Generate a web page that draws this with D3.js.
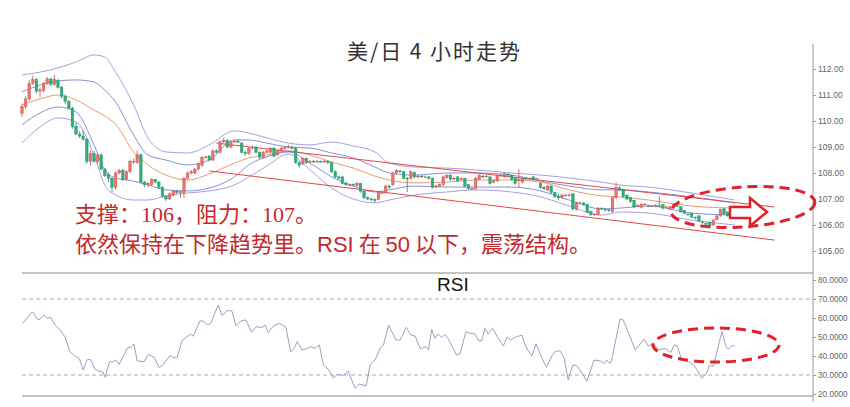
<!DOCTYPE html>
<html><head><meta charset="utf-8">
<script src="https://cdn.jsdelivr.net/npm/d3@7/dist/d3.min.js"></script>
<style>html,body{margin:0;padding:0;background:#fff;overflow:hidden}</style>
</head><body><svg id="c" width="850" height="407"></svg>
<script>
// ---------- DATA ----------
const title = "美/日 4 小时走势";
const priceTicks = [105,106,107,108,109,110,111,112];
const rsiTicks = [20,30,40,50,60,70,80];
// candles: [open, high, low, close]
const candles = [
[110.30,110.68,110.15,110.55],[110.55,110.95,110.45,110.85],[110.85,111.58,110.78,111.45],[111.45,111.75,111.38,111.60],
[111.60,111.66,111.05,111.15],[111.15,111.30,110.92,111.20],[111.18,111.50,111.10,111.45],[111.45,111.70,111.40,111.62],
[111.62,111.66,111.35,111.40],[111.40,111.78,111.35,111.60],[111.55,111.62,111.25,111.30],[111.30,111.35,110.85,110.95],
[110.95,111.02,110.65,110.75],[110.75,110.80,110.45,110.50],[110.50,110.55,109.70,109.78],[109.80,109.95,109.45,109.50],
[109.50,109.60,109.35,109.42],[109.42,109.65,109.25,109.30],[109.30,109.35,108.35,108.45],[108.45,108.88,108.30,108.75],
[108.75,108.85,108.40,108.45],[108.45,108.75,108.35,108.70],[108.70,108.75,108.10,108.15],[108.15,108.20,107.85,107.90],
[107.95,108.02,107.65,107.80],[107.80,107.85,107.25,107.45],[107.45,108.05,107.35,108.00],[108.00,108.15,107.95,108.10],
[108.10,108.15,107.70,107.75],[107.75,108.10,107.70,108.05],[108.05,108.50,108.00,108.45],[108.45,108.55,108.35,108.45],
[108.40,108.85,108.35,108.70],[108.70,108.75,107.60,107.65],[107.65,107.70,107.45,107.55],[107.55,107.65,107.45,107.60],
[107.55,107.80,107.50,107.75],[107.75,107.78,107.60,107.65],[107.65,107.70,107.40,107.45],[107.45,107.50,107.05,107.10],
[107.10,107.15,106.92,107.00],[107.00,107.25,106.95,107.20],[107.15,107.35,107.10,107.30],[107.30,107.35,107.20,107.25],
[107.25,107.32,107.05,107.28],[107.25,107.85,107.05,107.80],[107.80,108.05,107.75,108.00],[108.00,108.12,107.95,108.05],
[108.00,108.20,107.95,108.15],[108.15,108.40,108.10,108.35],[108.30,108.65,108.25,108.60],[108.60,108.66,108.55,108.62],
[108.65,108.70,108.45,108.50],[108.50,108.90,108.45,108.85],[108.85,108.92,108.75,108.80],[108.80,109.25,108.75,109.20],
[109.20,109.35,109.15,109.25],[109.25,109.30,108.95,109.00],[109.00,109.25,108.95,109.20],[109.20,109.28,109.15,109.22],
[109.22,109.30,109.15,109.20],[109.15,109.20,108.75,108.80],[108.80,108.85,108.65,108.75],[108.75,109.00,108.70,108.95],
[108.95,109.05,108.90,109.00],[109.00,109.05,108.75,108.80],[108.80,108.85,108.55,108.60],[108.60,108.85,108.55,108.80],
[108.80,108.90,108.75,108.85],[108.80,109.00,108.75,108.95],[108.95,109.00,108.60,108.65],[108.70,108.90,108.65,108.85],
[108.85,109.00,108.80,108.95],[108.95,109.02,108.90,108.97],[109.00,109.08,108.95,109.02],[108.98,109.05,108.90,108.95],
[108.95,109.00,108.35,108.40],[108.40,108.45,108.20,108.30],[108.35,108.60,108.30,108.55],[108.55,108.60,108.35,108.40],
[108.42,108.50,108.38,108.45],[108.45,108.50,108.40,108.43],[108.43,108.50,108.40,108.45],[108.45,108.48,108.40,108.44],
[108.44,108.50,108.40,108.45],[108.45,108.48,108.35,108.40],[108.40,108.42,108.00,108.05],[108.05,108.10,107.80,107.85],
[107.85,107.90,107.75,107.80],[107.85,107.90,107.55,107.60],[107.60,107.65,107.50,107.55],[107.55,107.60,107.50,107.56],
[107.56,107.60,107.50,107.55],[107.52,107.65,107.48,107.60],[107.60,107.62,107.25,107.30],[107.30,107.32,107.00,107.05],
[107.05,107.10,106.95,107.00],[107.00,107.05,106.92,106.98],[106.98,107.02,106.85,106.95],[106.98,107.30,106.95,107.25],
[107.25,107.30,107.20,107.25],[107.25,107.55,107.20,107.50],[107.50,107.55,107.40,107.45],[107.55,108.05,107.50,108.00],
[108.00,108.15,107.95,108.10],[108.08,108.12,108.00,108.05],[108.05,108.08,107.75,107.80],[107.80,107.85,107.27,107.78],
[107.80,108.10,107.75,108.05],[108.02,108.05,107.80,107.85],[107.85,107.92,107.80,107.88],[107.88,107.92,107.82,107.85],
[107.85,107.90,107.80,107.85],[107.85,107.88,107.75,107.80],[107.80,107.82,107.40,107.45],[107.48,107.55,107.42,107.50],
[107.50,107.60,107.45,107.55],[107.55,107.90,107.50,107.85],[107.82,107.95,107.78,107.92],[107.92,107.95,107.70,107.75],
[107.78,107.85,107.72,107.80],[107.85,107.88,107.65,107.70],[107.75,107.82,107.70,107.80],[107.80,107.82,107.45,107.50],
[107.55,107.58,107.35,107.40],[107.40,107.45,107.35,107.40],[107.40,107.85,107.35,107.80],[107.75,107.95,107.72,107.90],
[107.88,107.92,107.80,107.85],[107.87,107.92,107.83,107.88],[107.85,107.88,107.55,107.60],[107.65,107.75,107.60,107.70],
[107.70,107.95,107.65,107.90],[107.90,107.97,107.85,107.92],[107.85,108.00,107.82,107.97],[107.95,108.00,107.88,107.92],
[107.90,107.93,107.70,107.75],[107.80,107.83,107.55,107.60],[107.70,108.15,107.45,107.75],[107.65,107.85,107.60,107.80],
[107.80,107.85,107.75,107.78],[107.78,107.83,107.75,107.80],[107.85,107.88,107.70,107.75],[107.78,107.82,107.74,107.78],
[107.60,107.65,107.40,107.45],[107.45,107.50,107.35,107.40],[107.35,107.55,107.30,107.50],[107.50,107.52,107.20,107.25],
[107.25,107.28,107.05,107.10],[107.10,107.20,106.95,107.05],[107.05,107.20,107.00,107.15],[107.15,107.20,107.10,107.15],
[107.15,107.20,107.10,107.16],[107.20,107.22,106.55,106.62],[106.60,106.90,106.55,106.85],[106.85,106.90,106.80,106.85],
[106.85,106.88,106.75,106.80],[106.80,106.82,106.45,106.50],[106.52,106.55,106.35,106.40],[106.40,106.45,106.35,106.42],
[106.40,106.70,106.38,106.65],[106.65,106.68,106.58,106.62],[106.60,106.65,106.55,106.58],[106.58,106.62,106.50,106.55],
[106.52,107.08,106.48,107.05],[107.05,107.65,107.00,107.45],[107.42,107.50,107.30,107.35],[107.35,107.38,107.05,107.10],
[107.15,107.18,106.95,107.00],[107.05,107.08,106.85,106.90],[106.95,106.98,106.65,106.70],[106.75,106.80,106.70,106.75],
[106.68,106.85,106.65,106.80],[106.80,106.85,106.76,106.80],[106.75,106.78,106.70,106.73],[106.73,106.77,106.70,106.74],
[106.75,106.80,106.72,106.76],[106.74,107.10,106.70,106.73],[106.78,106.80,106.60,106.65],[106.68,106.72,106.64,106.70],
[106.60,106.74,106.58,106.70],[106.70,106.82,106.68,106.78],[106.74,106.76,106.70,106.72],[106.70,106.72,106.48,106.50],
[106.55,106.58,106.42,106.45],[106.42,106.45,106.36,106.40],[106.45,106.48,106.28,106.30],[106.30,106.33,106.22,106.27],
[106.35,106.38,106.12,106.15],[106.12,106.15,106.05,106.10],[106.06,106.10,106.00,106.05],[106.10,106.12,105.92,105.95],
[106.00,106.22,105.96,106.20],[106.20,106.38,106.18,106.35],[106.35,106.62,106.32,106.60],[106.62,106.66,106.40,106.42],
[106.50,106.52,106.32,106.35],[106.40,106.44,106.36,106.40],[106.38,106.42,106.34,106.38]
];
// Bollinger-style bands, read at these bar indices
const bandIdx     = [0,5,10,15,20,23,26,31,35,40,46,52,59,63,68,74,80,86,92,98,102,109,118,126,136,144,152,161,166,174,186,198];
const outerUpper  = [111.77,111.88,112.04,112.27,112.54,112.46,111.88,110.62,109.35,108.81,108.77,109.08,109.62,109.54,109.35,109.15,109.08,109.19,109.04,108.81,108.38,108.23,108.19,108.12,108.00,107.92,107.81,107.65,107.54,107.46,107.23,106.96];
const innerUpper  = [111.12,111.38,111.54,111.58,111.50,111.19,110.73,109.46,108.69,108.50,108.31,108.50,109.27,109.27,109.15,109.00,108.96,108.77,108.58,108.23,108.00,107.92,108.00,108.00,107.92,107.69,107.50,107.35,107.35,107.27,107.08,106.85];
const middleLine  = [110.62,110.85,111.00,110.81,110.42,110.19,109.88,108.81,108.31,107.92,107.73,107.96,108.38,108.58,108.69,108.85,108.69,108.42,108.19,107.88,107.73,107.62,107.65,107.73,107.73,107.65,107.35,107.12,107.08,106.96,106.73,106.65];
const innerLower  = [109.85,110.31,110.54,110.35,109.08,108.12,107.81,107.69,107.54,107.35,107.31,107.42,107.85,108.31,108.62,108.81,108.38,107.85,107.50,107.27,107.35,107.50,107.46,107.46,107.46,107.31,106.96,106.62,106.65,106.73,106.46,106.38];
const outerLower  = [109.15,109.77,110.12,109.96,108.69,107.54,107.15,106.96,106.96,107.12,107.23,107.31,107.54,107.85,108.27,108.73,108.12,107.42,107.00,106.85,106.96,107.15,107.27,107.35,107.27,107.08,106.73,106.38,106.50,106.46,106.19,106.00];
// trend lines
const upperTrendIdx = [54,209], upperTrendVal = [109.15,106.69];
const lowerTrendIdx = [52,209], lowerTrendVal = [108.08,105.42];
// RSI
const rsiIdx = [0.2,2.7,3.1,4.3,5,6.2,7,8,9.2,10.6,11.9,13.3,14.7,15.9,17,18.1,19.1,20.3,21.7,22.4,23.1,24.3,25.4,26.1,27,29.3,30.2,31.1,32,33.9,35.1,36.7,38.1,39.3,41.1,42.2,43.1,44.4,45.8,46.9,47.6,49.4,50.4,51.5,52.4,54.5,55.6,56.9,58.3,59.4,60.8,62.2,63.8,65,66.6,67.5,68.4,69.8,71.5,73.3,74.6,75.4,76.5,77.7,79.1,80.2,81.4,82.6,83.7,85.1,86.5,87.6,89.3,90.6,92.5,93.7,95.6,96.7,98.1,99.6,100.4,101.8,103.9,105,106.7,108,109.2,110.6,111.3,112.2,112.9,113.8,114.7,115.6,116.6,117.5,118.4,120.7,121.7,123.3,124.4,125.8,126.8,127.7,128.6,129.5,130.7,132,133.7,134.8,135.7,136.9,138.8,140.2,141.6,142.8,144.4,145.7,147.1,148.1,149.4,150.6,151.7,153,154.1,155,156.9,158.9,160.6,161.8,162.4,163.3,163.8,166.1,167,168.7,170.3,172.8,173.9,175.4,176.8,178.6,180.2,181.1,182,183.2,184.6,186.5,187.4,188.8,190,190.9,192,194.4,195.6,196.2,197.1,198];
const rsiVal = [57.2,63,63,59.3,59.3,61.6,59.8,60.3,56.3,53.7,50.2,42.3,40,38.8,32.6,38.2,38,33,31.7,31.7,28.8,37,37,37.9,35.6,44.4,44.5,46.3,37.4,37,40.9,39.3,33.8,35.6,40.2,39.1,39.1,48,50.2,51.4,50.4,58.4,58.4,56.3,57.2,66.8,61.2,63.9,63.7,56,58.4,59,52.5,55.4,55,56.3,52.3,55.8,57.2,55.1,42.3,43.5,47.6,43.2,43.9,44.9,44,45.8,35.3,33,28.3,30.4,29.8,32,23,25.1,24.4,35.3,37.9,44.6,45.8,56.3,48.4,48.4,55.1,51,50.5,44,44.2,45,43.2,54,49.3,51.6,49.8,51.3,49,40.5,41.2,52.8,52,51.6,48,48,54.6,51.6,54.6,50.2,45.3,50,48.4,49.8,51,44,40,46.3,38.8,34,40,42.3,42.8,38.8,27.4,35.3,34.9,32.6,26.8,37.9,37.4,36,37.9,36,37.9,59.5,59,51,43.2,48.8,45.3,46.3,43.2,44,41.8,45.8,45.3,38.2,37.6,35.3,33,28.3,30.4,35,34.5,52.8,44.6,43.5,45.3,45.3];
const rsiLevels = [70,30];
const note1 = ["支撑：", "106", "，阻力：", "107", "。"];
const note2 = ["依然保持在下降趋势里。", "RSI", " 在 ", "50", " 以下，震荡结构。"];

// ---------- DRAW ----------
const svg = d3.select("#c");
svg.append("rect").attr("width",850).attr("height",407).attr("fill","#fff");
const CJK = "'Noto Sans CJK SC','Noto Sans',sans-serif";
const x = d3.scaleLinear().domain([0,219.7]).range([22,813]);
const y = d3.scaleLinear().domain([104.5,113]).range([264,43]);
const yr = d3.scaleLinear().domain([20,80]).range([394,280]);

// title
svg.append("text").attr("x",347).attr("y",59).attr("font-size",21).attr("fill","#333")
  .attr("font-family",CJK).attr("textLength",173).attr("lengthAdjust","spacing").text(title);

// bands
const bandLine = vals => d3.line().curve(d3.curveMonotoneX)
  .x((d,i)=>x(bandIdx[i])).y(d=>y(d))(vals);
[[outerUpper,"#ab9ddf"],[outerLower,"#ab9ddf"],[innerUpper,"#8391da"],[innerLower,"#8391da"],[middleLine,"#e69c74"]]
  .forEach(([v,c])=>svg.append("path").attr("d",bandLine(v)).attr("fill","none").attr("stroke",c).attr("stroke-width",1));

// trend lines
[[upperTrendIdx,upperTrendVal],[lowerTrendIdx,lowerTrendVal]].forEach(([ix,vv])=>{
  svg.append("line").attr("x1",x(ix[0])).attr("y1",y(vv[0])).attr("x2",x(ix[1])).attr("y2",y(vv[1]))
    .attr("stroke","#e04848").attr("stroke-width",1);
});

// candles
const cg = svg.append("g");
const bw = 2.6;
candles.forEach((d,i)=>{
  const [o,h,l,c] = d;
  const up = c >= o;
  const fill = up ? "#e8746c" : "#2fae7c";
  const stroke = up ? "#c9504a" : "#1d8f60";
  const cx = x(i);
  cg.append("line").attr("x1",cx).attr("x2",cx).attr("y1",y(h)).attr("y2",y(l)).attr("stroke",stroke).attr("stroke-width",0.8);
  const top = y(Math.max(o,c)), bot = y(Math.min(o,c));
  cg.append("rect").attr("x",cx-bw/2).attr("y",top).attr("width",bw).attr("height",Math.max(0.8,bot-top))
    .attr("fill",fill).attr("stroke",stroke).attr("stroke-width",0.4);
});

// price axis
svg.append("line").attr("x1",813).attr("x2",813).attr("y1",44).attr("y2",402).attr("stroke","#999").attr("stroke-width",1);
const pa = svg.append("g").attr("transform","translate(813,0)")
  .call(d3.axisRight(y).tickValues(priceTicks).tickFormat(d3.format(".2f")).tickSize(3).tickPadding(2));
pa.select(".domain").remove();
pa.selectAll("line").attr("stroke","#999");
pa.selectAll("text").attr("fill","#666").attr("font-size",8.5).attr("font-family","Liberation Sans, Arial, sans-serif");

// separators
svg.append("line").attr("x1",22).attr("x2",813).attr("y1",273).attr("y2",273).attr("stroke","#888").attr("stroke-width",1);
svg.append("line").attr("x1",22).attr("x2",813).attr("y1",396).attr("y2",396).attr("stroke","#888").attr("stroke-width",1);

// RSI levels
rsiLevels.forEach(v=>svg.append("line").attr("x1",22).attr("x2",813).attr("y1",yr(v)).attr("y2",yr(v))
  .attr("stroke","#aaa").attr("stroke-width",1).attr("stroke-dasharray","4,3"));

// RSI axis
const ra = svg.append("g").attr("transform","translate(813,0)")
  .call(d3.axisRight(yr).tickValues(rsiTicks).tickFormat(d3.format(".4f")).tickSize(3).tickPadding(2));
ra.select(".domain").remove();
ra.selectAll("line").attr("stroke","#999");
ra.selectAll("text").attr("fill","#666").attr("font-size",8.2).attr("font-family","Liberation Sans, Arial, sans-serif");

// RSI line
svg.append("path").attr("d", d3.line().x((d,i)=>x(rsiIdx[i])).y(d=>yr(d))(rsiVal))
  .attr("fill","none").attr("stroke","#a799c6").attr("stroke-width",1);
svg.append("text").attr("x",437).attr("y",291).attr("font-size",19).attr("fill","#111")
  .attr("font-family","Liberation Sans, Arial, sans-serif").text("RSI");

// annotations
const red = "#c4282c";
const t1 = svg.append("text").attr("x",75).attr("y",222).attr("font-size",22).attr("fill",red).attr("font-family",CJK);
note1.forEach((s,i)=>t1.append("tspan").attr("font-family", (i%2)? "Liberation Serif, serif" : CJK).text(s));
const t2 = svg.append("text").attr("x",75).attr("y",252).attr("font-size",22).attr("fill",red).attr("font-family",CJK)
  .attr("xml:space","preserve");
note2.forEach((s,i)=>t2.append("tspan").attr("font-family", (i%2)? "Liberation Sans, Arial, sans-serif" : CJK).text(s));

// highlight ellipses and arrow
const er = "#e0202a";
svg.append("ellipse").attr("cx",743).attr("cy",207).attr("rx",72).attr("ry",20)
  .attr("transform","rotate(-4,743,207)").attr("fill","none").attr("stroke",er).attr("stroke-width",3).attr("stroke-dasharray","10,6");
svg.append("polygon").attr("points","730,207 750,207 750,198 767,212 750,226 750,218 730,218")
  .attr("fill","#fff").attr("stroke",er).attr("stroke-width",2.5).attr("stroke-linejoin","miter");
svg.append("ellipse").attr("cx",716).attr("cy",345).attr("rx",63).attr("ry",17)
  .attr("fill","none").attr("stroke",er).attr("stroke-width",3).attr("stroke-dasharray","10,6");
</script></body></html>
